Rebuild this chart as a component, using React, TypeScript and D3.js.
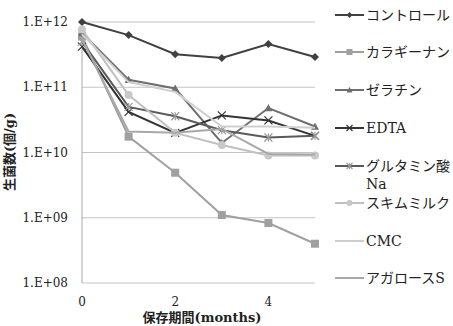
import React, { useEffect, useRef } from 'react';
import * as d3 from 'd3';

const months = [0, 1, 2, 3, 4, 5];
const seriesNames = ['コントロール', 'カラギーナン', 'ゼラチン', 'EDTA', 'グルタミン酸\nNa', 'スキムミルク', 'CMC', 'アガロースS'];
const control = [1e12, 6.3e11, 3.2e11, 2.8e11, 4.6e11, 2.9e11];
const carrageenan = [6e11, 1.75e10, 4.9e9, 1.1e9, 8.3e8, 4e8];
const gelatin = [6.8e11, 1.3e11, 9.6e10, 1.4e10, 4.8e10, 2.5e10];
const edta = [4.2e11, 4.2e10, 2e10, 3.7e10, 3.1e10, 1.8e10];
const glutamate = [5e11, 5e10, 3.6e10, 2.2e10, 1.7e10, 1.8e10];
const skimMilk = [7.7e11, 7.6e10, 2e10, 1.3e10, 9e9, 9e9];
const cmc = [6.5e11, 1.2e11, 8.5e10, 2.5e10, 2.5e10, 2.4e10];
const agarose = [5.5e11, 2.1e10, 2e10, 2.3e10, 9.5e9, 9.3e9];
const yTicks = [1e8, 1e9, 1e10, 1e11, 1e12];
const xTicks = [0, 2, 4];

const seriesValues = [control, carrageenan, gelatin, edta, glutamate, skimMilk, cmc, agarose];
const colors = ['#404040', '#a0a0a0', '#6e6e6e', '#333333', '#5a5a5a', '#c0c0c0', '#cfcfcf', '#a8a8a8'];
const markers = ['diamond', 'square', 'triangle', 'x', 'star', 'circle', 'none', 'none'];
const markerColors = ['#404040', '#a0a0a0', '#6e6e6e', '#333333', '#9a9a9a', '#c8c8c8', '', ''];

const serif = '"DejaVu Serif", "Liberation Serif", serif';
const jp = '"DejaVu Serif", "Noto Sans CJK JP", serif';

export default function App() {
  const ref = useRef<SVGSVGElement>(null);

  useEffect(() => {
    const svg = d3.select(ref.current);
    svg.selectAll('*').remove();

    const left = 82, right = 315, top = 22, bottom = 283;
    const x = d3.scaleLinear().domain([0, 5]).range([left, right]);
    const y = d3.scaleLog().domain([1e8, 1e12]).range([bottom, top]);

    const g = svg.append('g');

    g.selectAll('.grid')
      .data(yTicks)
      .join('line')
      .attr('x1', left).attr('x2', right)
      .attr('y1', d => y(d)).attr('y2', d => y(d))
      .attr('stroke', '#c4c4c4').attr('stroke-width', 1);

    g.append('line')
      .attr('x1', left).attr('x2', left).attr('y1', top).attr('y2', bottom)
      .attr('stroke', '#a8a8a8');

    g.selectAll('.ylab')
      .data(yTicks)
      .join('text')
      .attr('x', left - 14)
      .attr('y', d => y(d) + 4)
      .attr('text-anchor', 'end')
      .attr('font-family', serif)
      .attr('font-size', 12)
      .attr('fill', '#222')
      .text(d => '1.E+' + String(Math.round(Math.log10(d))).padStart(2, '0'));

    g.selectAll('.xlab')
      .data(xTicks)
      .join('text')
      .attr('x', d => x(d))
      .attr('y', bottom + 23)
      .attr('text-anchor', 'middle')
      .attr('font-family', serif)
      .attr('font-size', 12)
      .attr('fill', '#222')
      .text(d => d);

    g.append('text')
      .attr('x', 202).attr('y', 322)
      .attr('text-anchor', 'middle')
      .attr('font-family', jp)
      .attr('font-size', 13)
      .attr('font-weight', 'bold')
      .attr('fill', '#222')
      .text('保存期間(months)');

    g.append('text')
      .attr('transform', 'translate(14,152) rotate(-90)')
      .attr('text-anchor', 'middle')
      .attr('font-family', jp)
      .attr('font-size', 13)
      .attr('font-weight', 'bold')
      .attr('fill', '#222')
      .text('生菌数(個/g)');

    const line = d3.line<number>().x((_, i) => x(months[i])).y(d => y(d));

    const drawMarker = (sel: any, type: string, color: string, cx: number, cy: number, s: number) => {
      if (type === 'diamond') {
        sel.append('path').attr('d', `M${cx},${cy - s}L${cx + s},${cy}L${cx},${cy + s}L${cx - s},${cy}Z`).attr('fill', color);
      } else if (type === 'square') {
        sel.append('rect').attr('x', cx - s).attr('y', cy - s).attr('width', 2 * s).attr('height', 2 * s).attr('fill', color);
      } else if (type === 'triangle') {
        sel.append('path').attr('d', `M${cx},${cy - s}L${cx + s},${cy + s * 0.8}L${cx - s},${cy + s * 0.8}Z`).attr('fill', color);
      } else if (type === 'circle') {
        sel.append('circle').attr('cx', cx).attr('cy', cy).attr('r', s).attr('fill', color);
      } else if (type === 'x') {
        sel.append('path').attr('d', `M${cx - s},${cy - s}L${cx + s},${cy + s}M${cx - s},${cy + s}L${cx + s},${cy - s}`)
          .attr('stroke', color).attr('stroke-width', 1.2);
      } else if (type === 'star') {
        sel.append('path').attr('d', `M${cx - s},${cy - s}L${cx + s},${cy + s}M${cx - s},${cy + s}L${cx + s},${cy - s}M${cx},${cy - s}L${cx},${cy + s}`)
          .attr('stroke', color).attr('stroke-width', 1.2);
      }
    };

    seriesValues.forEach((vals, si) => {
      const sg = g.append('g');
      sg.append('path')
        .attr('d', line(vals))
        .attr('fill', 'none')
        .attr('stroke', colors[si])
        .attr('stroke-width', 2);
      vals.forEach((v, i) => drawMarker(sg, markers[si], markerColors[si], x(months[i]), y(v), 4));
    });

    // legend
    const legendY = [15, 52, 90, 128, 166, 203, 241, 278];
    const lg = svg.append('g');
    seriesNames.forEach((name, si) => {
      const ly = legendY[si];
      lg.append('line').attr('x1', 335).attr('x2', 364).attr('y1', ly).attr('y2', ly)
        .attr('stroke', colors[si]).attr('stroke-width', 2);
      drawMarker(lg, markers[si], markerColors[si], 349.5, ly, 3);
      name.split('\n').forEach((part, k) => {
        lg.append('text')
          .attr('x', 366).attr('y', ly + 5 + k * 18)
          .attr('font-family', jp)
          .attr('font-size', 14)
          .attr('fill', '#222')
          .text(part);
      });
    });
  }, []);

  return (
    <svg ref={ref} width={453} height={326} style={{ position: 'absolute', left: 0, top: 0, background: '#fff' }} />
  );
}
